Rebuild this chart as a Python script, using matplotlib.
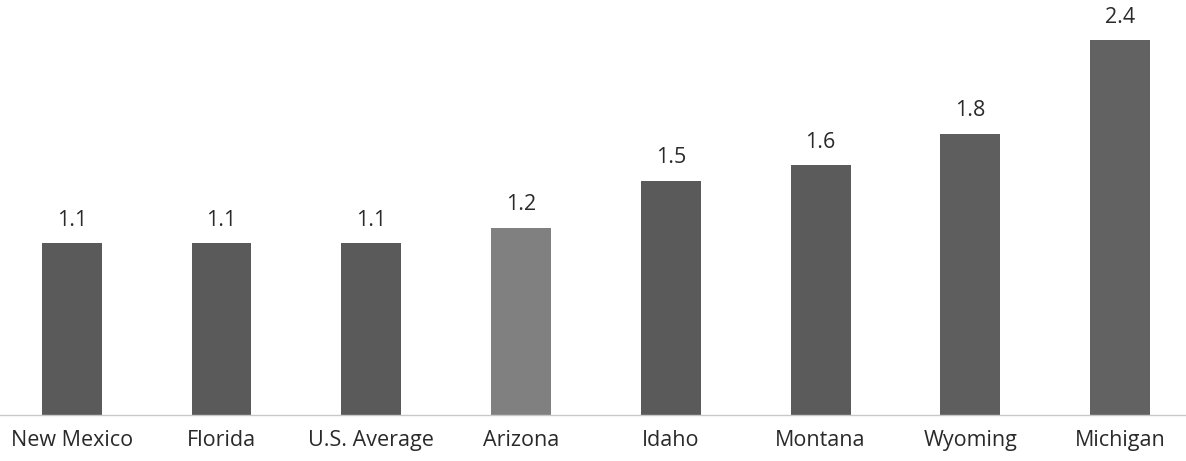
import matplotlib
matplotlib.use("Agg")
import matplotlib.pyplot as plt

states = ["New Mexico", "Florida", "U.S. Average", "Arizona", "Idaho", "Montana", "Wyoming", "Michigan"]
values = [1.1, 1.1, 1.1, 1.2, 1.5, 1.6, 1.8, 2.4]
bar_colors = ["#5a5a5a", "#5a5a5a", "#5a5a5a", "#808080", "#5a5a5a", "#5b5b5b", "#5e5e5e", "#626262"]

plt.rcParams["font.family"] = ["Open Sans", "DejaVu Sans"]

fig = plt.figure(figsize=(11.86, 4.61), dpi=100)
ax = fig.add_axes([0, 46 / 461, 1, 415 / 461])

x = range(len(states))
bars = ax.bar(x, values, width=0.4, color=bar_colors, edgecolor="none")

for rect, v in zip(bars, values):
    ax.annotate(f"{v:.1f}", (rect.get_x() + rect.get_width() / 2, v),
                xytext=(0, 9), textcoords="offset points",
                ha="center", va="bottom", fontsize=15.5, color="#2a2a2a")

ax.set_xlim(-0.479, 7.44)
ax.set_ylim(0, 2.656)
ax.set_xticks(list(x))
ax.set_xticklabels(states, fontsize=15.5, color="#2a2a2a")
ax.tick_params(axis="x", length=0, pad=11)
ax.set_yticks([])
for side in ("left", "right", "top"):
    ax.spines[side].set_visible(False)
ax.spines["bottom"].set_color("#c8c8c8")
ax.spines["bottom"].set_linewidth(1.0)

fig.savefig("out.png", dpi=100)
